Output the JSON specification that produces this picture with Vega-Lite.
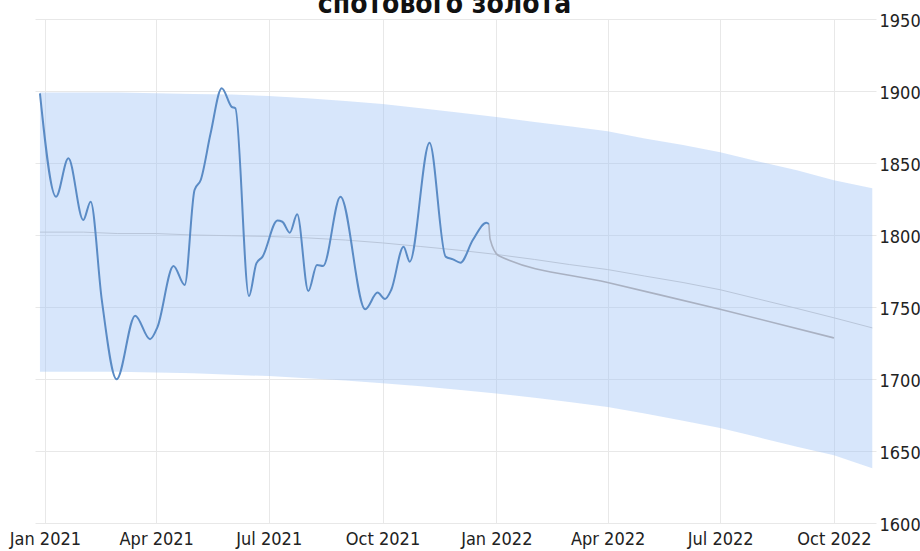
{
  "$schema": "https://vega.github.io/schema/vega-lite/v6.json",
  "width": 841,
  "height": 504,
  "autosize": {"type": "none"},
  "padding": {"left": 35, "top": 19, "right": 44, "bottom": 28},
  "background": "white",
  "title": {
    "text": "спотового золота",
    "font": "DejaVu Sans Condensed, Liberation Sans Narrow, sans-serif",
    "fontSize": 28,
    "fontWeight": "bold",
    "color": "#111111",
    "anchor": "middle",
    "dx": -11,
    "dy": 7,
    "offset": 0
  },
  "config": {
    "view": {"stroke": null},
    "axis": {
      "labelFont": "DejaVu Sans Condensed, Liberation Sans Narrow, sans-serif",
      "labelFontSize": 18,
      "labelColor": "#222222",
      "gridColor": "#e8e8e8",
      "gridWidth": 1,
      "domain": false,
      "ticks": false,
      "title": null
    }
  },
  "datasets": {
    "band": [
      {"date": "2020-12-28", "upper": 1899, "lower": 1705, "center": 1802},
      {"date": "2021-02-01", "upper": 1899, "lower": 1705, "center": 1802},
      {"date": "2021-03-01", "upper": 1899, "lower": 1705, "center": 1801},
      {"date": "2021-04-01", "upper": 1898.5, "lower": 1704.5, "center": 1801},
      {"date": "2021-05-01", "upper": 1898, "lower": 1704, "center": 1800},
      {"date": "2021-06-01", "upper": 1897.5, "lower": 1703, "center": 1799.5},
      {"date": "2021-07-01", "upper": 1896.5, "lower": 1702, "center": 1799},
      {"date": "2021-08-01", "upper": 1895, "lower": 1700.5, "center": 1798},
      {"date": "2021-09-01", "upper": 1893, "lower": 1699, "center": 1796.5},
      {"date": "2021-10-01", "upper": 1891, "lower": 1697, "center": 1794.5},
      {"date": "2021-11-01", "upper": 1888, "lower": 1695, "center": 1792},
      {"date": "2021-12-01", "upper": 1885, "lower": 1692.5, "center": 1789.5},
      {"date": "2022-01-01", "upper": 1882, "lower": 1690, "center": 1786.5},
      {"date": "2022-02-01", "upper": 1878.5, "lower": 1687, "center": 1783},
      {"date": "2022-03-01", "upper": 1875.5, "lower": 1684, "center": 1779.5},
      {"date": "2022-04-01", "upper": 1872, "lower": 1680.5, "center": 1776},
      {"date": "2022-05-01", "upper": 1867, "lower": 1676, "center": 1771.5},
      {"date": "2022-06-01", "upper": 1862.5, "lower": 1671, "center": 1767},
      {"date": "2022-07-01", "upper": 1857.5, "lower": 1666, "center": 1762},
      {"date": "2022-08-01", "upper": 1851, "lower": 1659.5, "center": 1755.5},
      {"date": "2022-09-01", "upper": 1845, "lower": 1653, "center": 1749},
      {"date": "2022-10-01", "upper": 1838, "lower": 1647, "center": 1742.5},
      {"date": "2022-11-01", "upper": 1832.5, "lower": 1638, "center": 1735.5}
    ],
    "actual": [
      {"date": "2020-12-28", "price": 1898.4},
      {"date": "2021-01-10", "price": 1826.6},
      {"date": "2021-01-20", "price": 1853.3},
      {"date": "2021-02-01", "price": 1810.4},
      {"date": "2021-02-07", "price": 1823.1},
      {"date": "2021-02-16", "price": 1755},
      {"date": "2021-02-28", "price": 1699.8},
      {"date": "2021-03-15", "price": 1744},
      {"date": "2021-03-27", "price": 1727.6},
      {"date": "2021-04-02", "price": 1736},
      {"date": "2021-04-15", "price": 1778.5},
      {"date": "2021-04-24", "price": 1765.3},
      {"date": "2021-05-02", "price": 1831.3},
      {"date": "2021-05-07", "price": 1838.2},
      {"date": "2021-05-15", "price": 1870.6},
      {"date": "2021-05-24", "price": 1901.9},
      {"date": "2021-06-01", "price": 1889},
      {"date": "2021-06-04", "price": 1888},
      {"date": "2021-06-15", "price": 1757.6},
      {"date": "2021-06-21", "price": 1780.3},
      {"date": "2021-06-26", "price": 1785},
      {"date": "2021-07-08", "price": 1810},
      {"date": "2021-07-12", "price": 1809.2},
      {"date": "2021-07-18", "price": 1801.6},
      {"date": "2021-07-24", "price": 1814.4},
      {"date": "2021-08-02", "price": 1761.1},
      {"date": "2021-08-09", "price": 1779.2},
      {"date": "2021-08-14", "price": 1778.5},
      {"date": "2021-08-28", "price": 1826.6},
      {"date": "2021-09-17", "price": 1748.4},
      {"date": "2021-09-27", "price": 1760},
      {"date": "2021-10-03", "price": 1755.6},
      {"date": "2021-10-08", "price": 1761.8},
      {"date": "2021-10-18", "price": 1791.9},
      {"date": "2021-10-23", "price": 1781.5},
      {"date": "2021-11-08", "price": 1864.1},
      {"date": "2021-11-21", "price": 1785},
      {"date": "2021-11-27", "price": 1783.1},
      {"date": "2021-12-03", "price": 1780.8},
      {"date": "2021-12-13", "price": 1796.5},
      {"date": "2021-12-24", "price": 1808.5},
      {"date": "2021-12-26", "price": 1807.6}
    ],
    "forecast": [
      {"date": "2021-12-26", "price": 1807.6},
      {"date": "2021-12-27", "price": 1797},
      {"date": "2022-01-03", "price": 1785.6},
      {"date": "2022-04-01", "price": 1767},
      {"date": "2022-07-01", "price": 1748.5},
      {"date": "2022-10-01", "price": 1728.5}
    ]
  },
  "encoding": {
    "x": {
      "field": "date",
      "type": "temporal",
      "scale": {
        "domain": [
          {"year": 2020, "month": 12, "date": 24},
          {"year": 2022, "month": 11, "date": 4}
        ]
      },
      "axis": {
        "format": "%b %Y",
        "tickCount": {"interval": "month", "step": 3},
        "labelPadding": 7,
        "labelFlush": false,
        "labelOverlap": false
      }
    }
  },
  "layer": [
    {
      "data": {"name": "band"},
      "mark": {"type": "area", "color": "#9cc0f5", "opacity": 0.4},
      "encoding": {
        "y": {
          "field": "upper",
          "type": "quantitative",
          "scale": {"domain": [1600, 1950], "nice": false, "zero": false},
          "axis": {
            "orient": "right",
            "format": "d",
            "values": [1600, 1650, 1700, 1750, 1800, 1850, 1900, 1950],
            "labelPadding": 3,
            "labelOffset": 2
          }
        },
        "y2": {"field": "lower"}
      }
    },
    {
      "data": {"name": "band"},
      "mark": {"type": "line", "color": "#b9c6da", "strokeWidth": 1},
      "encoding": {
        "y": {"field": "center", "type": "quantitative"}
      }
    },
    {
      "data": {"name": "forecast"},
      "mark": {"type": "line", "color": "#a9b1c2", "strokeWidth": 1.6, "interpolate": "monotone"},
      "encoding": {
        "y": {"field": "price", "type": "quantitative"}
      }
    },
    {
      "data": {"name": "actual"},
      "mark": {"type": "line", "color": "#5a8bc5", "strokeWidth": 2, "interpolate": "monotone"},
      "encoding": {
        "y": {"field": "price", "type": "quantitative"}
      }
    }
  ]
}
